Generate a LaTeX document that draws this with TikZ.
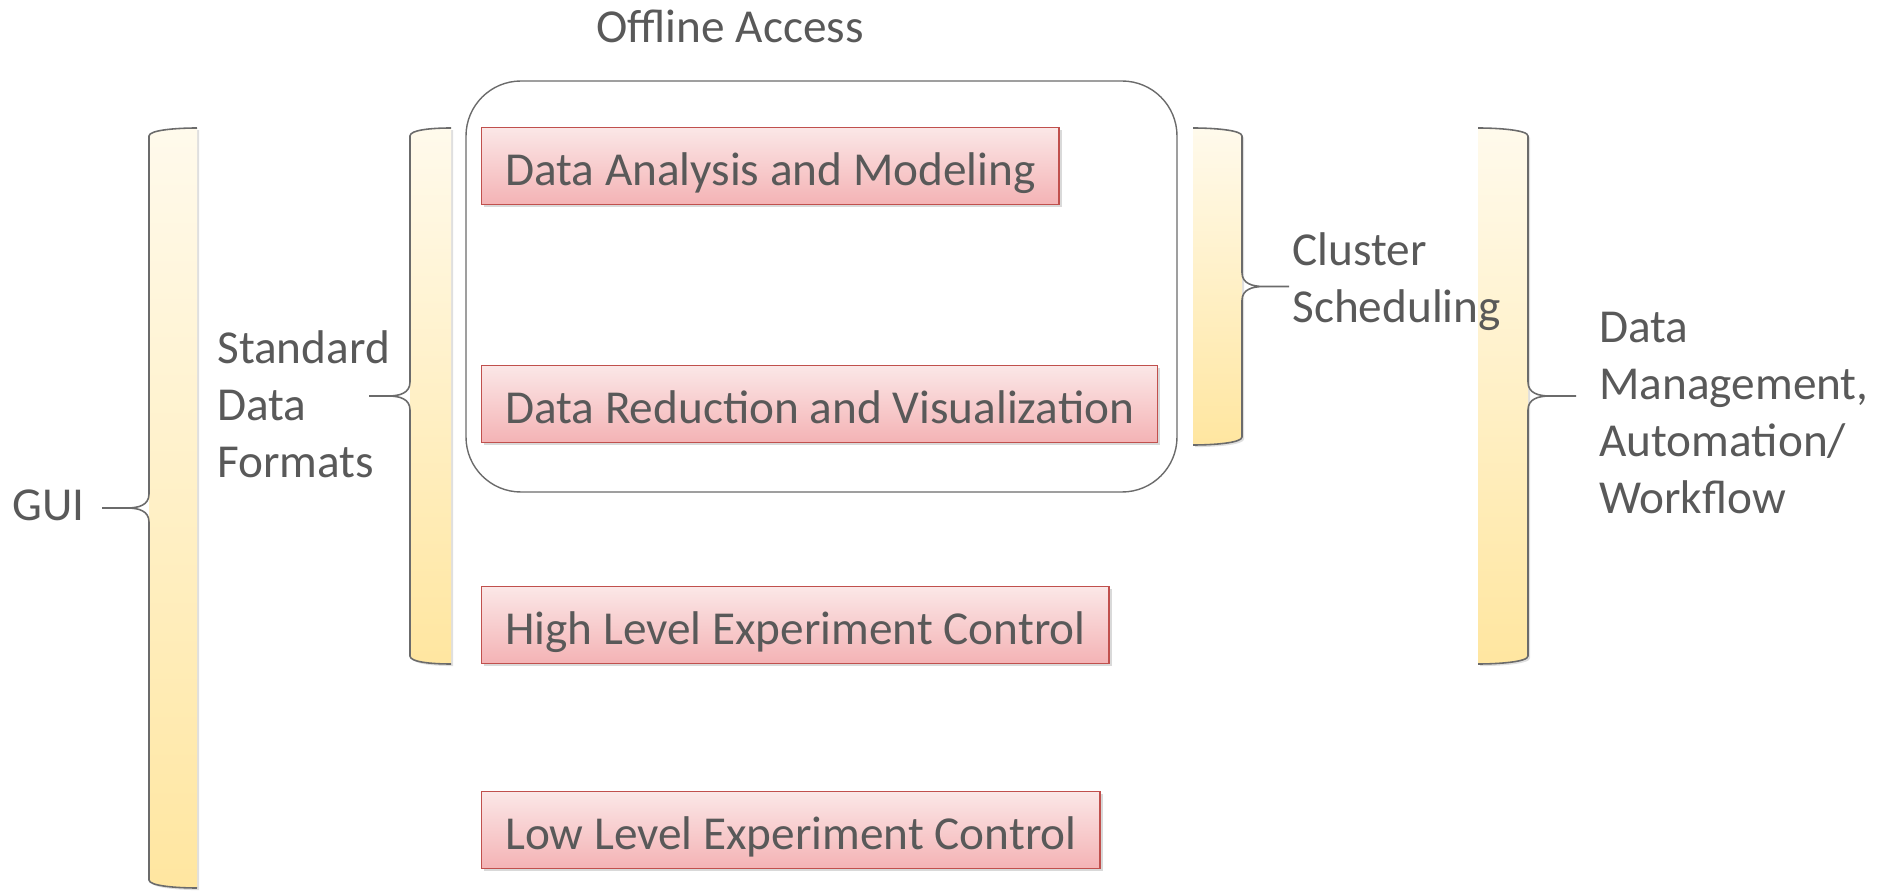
\documentclass[tikz,border=0pt]{standalone}
\usepackage{fontspec}
\setmainfont{Carlito}
\usetikzlibrary{shadows}

\definecolor{txtgray}{HTML}{595959}
\definecolor{edgegray}{HTML}{6B6B6B}
\definecolor{boxred}{HTML}{C0504D}
\definecolor{pinktop}{HTML}{FBE7E7}
\definecolor{pinkbot}{HTML}{F4B3B5}
\definecolor{goldtop}{HTML}{FFFAEC}
\definecolor{goldbot}{HTML}{FFE6A0}

\tikzset{
  stage/.style={draw=boxred, line width=0.8pt, top color=pinktop, bottom color=pinkbot,
    minimum height=1.54cm, inner xsep=0.47cm, text height=1cm, text depth=0.22cm,
    anchor=west, text=txtgray,
    drop shadow={opacity=0.3, shadow xshift=1.5pt, shadow yshift=-1.5pt}},
  tag/.style={text=txtgray, align=left, anchor=west, inner sep=0pt},
  bracefill/.style={top color=goldtop, bottom color=goldbot,
    drop shadow={opacity=0.25, shadow xshift=1.2pt, shadow yshift=-1.2pt}},
  braceline/.style={draw=edgegray, line width=0.9pt},
}

% brace: stroke x, far x, top y, bottom y, tip x
\newcommand{\bracket}[5]{%
  \pgfmathsetmacro\bd{(#5-#1)/abs(#5-#1)}%
  \pgfmathsetmacro\bm{(#3+#4)/2}%
  \shade[bracefill] (#2,#3) .. controls ({#2+20*\bd},#3) and (#1,{#3+2}) .. (#1,{#3+8})
    -- (#1,{#4-8}) .. controls (#1,{#4-2}) and ({#2+20*\bd},#4) .. (#2,#4) -- cycle;
  \draw[braceline] (#2,#3) .. controls ({#2+20*\bd},#3) and (#1,{#3+2}) .. (#1,{#3+8})
    -- (#1,{\bm-14}) .. controls (#1,{\bm-3}) and ({#1+10*\bd},\bm) .. ({#1+22*\bd},\bm)
    -- (#5,\bm) -- ({#1+22*\bd},\bm) .. controls ({#1+10*\bd},\bm) and (#1,{\bm+3}) .. (#1,{\bm+14})
    -- (#1,{#4-8}) .. controls (#1,{#4-2}) and ({#2+20*\bd},#4) .. (#2,#4);
}

\begin{document}
\begin{tikzpicture}[x=0.02cm, y=-0.02cm, font=\fontsize{26.9}{32.4}\selectfont]
  \useasboundingbox (0,0) rectangle (1887,891);

  % offline group
  \draw[edgegray, line width=0.8pt, rounded corners=1.1cm] (466,81) rectangle (1177,492);
  \node[text=txtgray] (offline) at (730,26) {Offline Access};

  % layers
  \node[stage] (analysis) at (481,166) {Data Analysis and Modeling};
  \node[stage] (reduction) at (481,404) {Data Reduction and Visualization};
  \node[stage] (highctl) at (481,625) {High Level Experiment Control};
  \node[stage] (lowctl) at (481,830) {Low Level Experiment Control};

  % braces
  \bracket{149}{197}{128}{888}{102}
  \bracket{410}{451}{128}{664}{369}
  \bracket{1242}{1193}{128}{445}{1289}
  \bracket{1528}{1478}{128}{664}{1576}

  % labels
  \node[tag] (gui) at (12,505) {GUI};
  \node[tag] (formats) at (217,404) {Standard\\Data\\Formats};
  \node[tag] (cluster) at (1292,282) {Cluster\\Scheduling};
  \node[tag] (workflow) at (1599,413) {Data\\Management,\\Automation/\\Workflow};
\end{tikzpicture}
\end{document}
